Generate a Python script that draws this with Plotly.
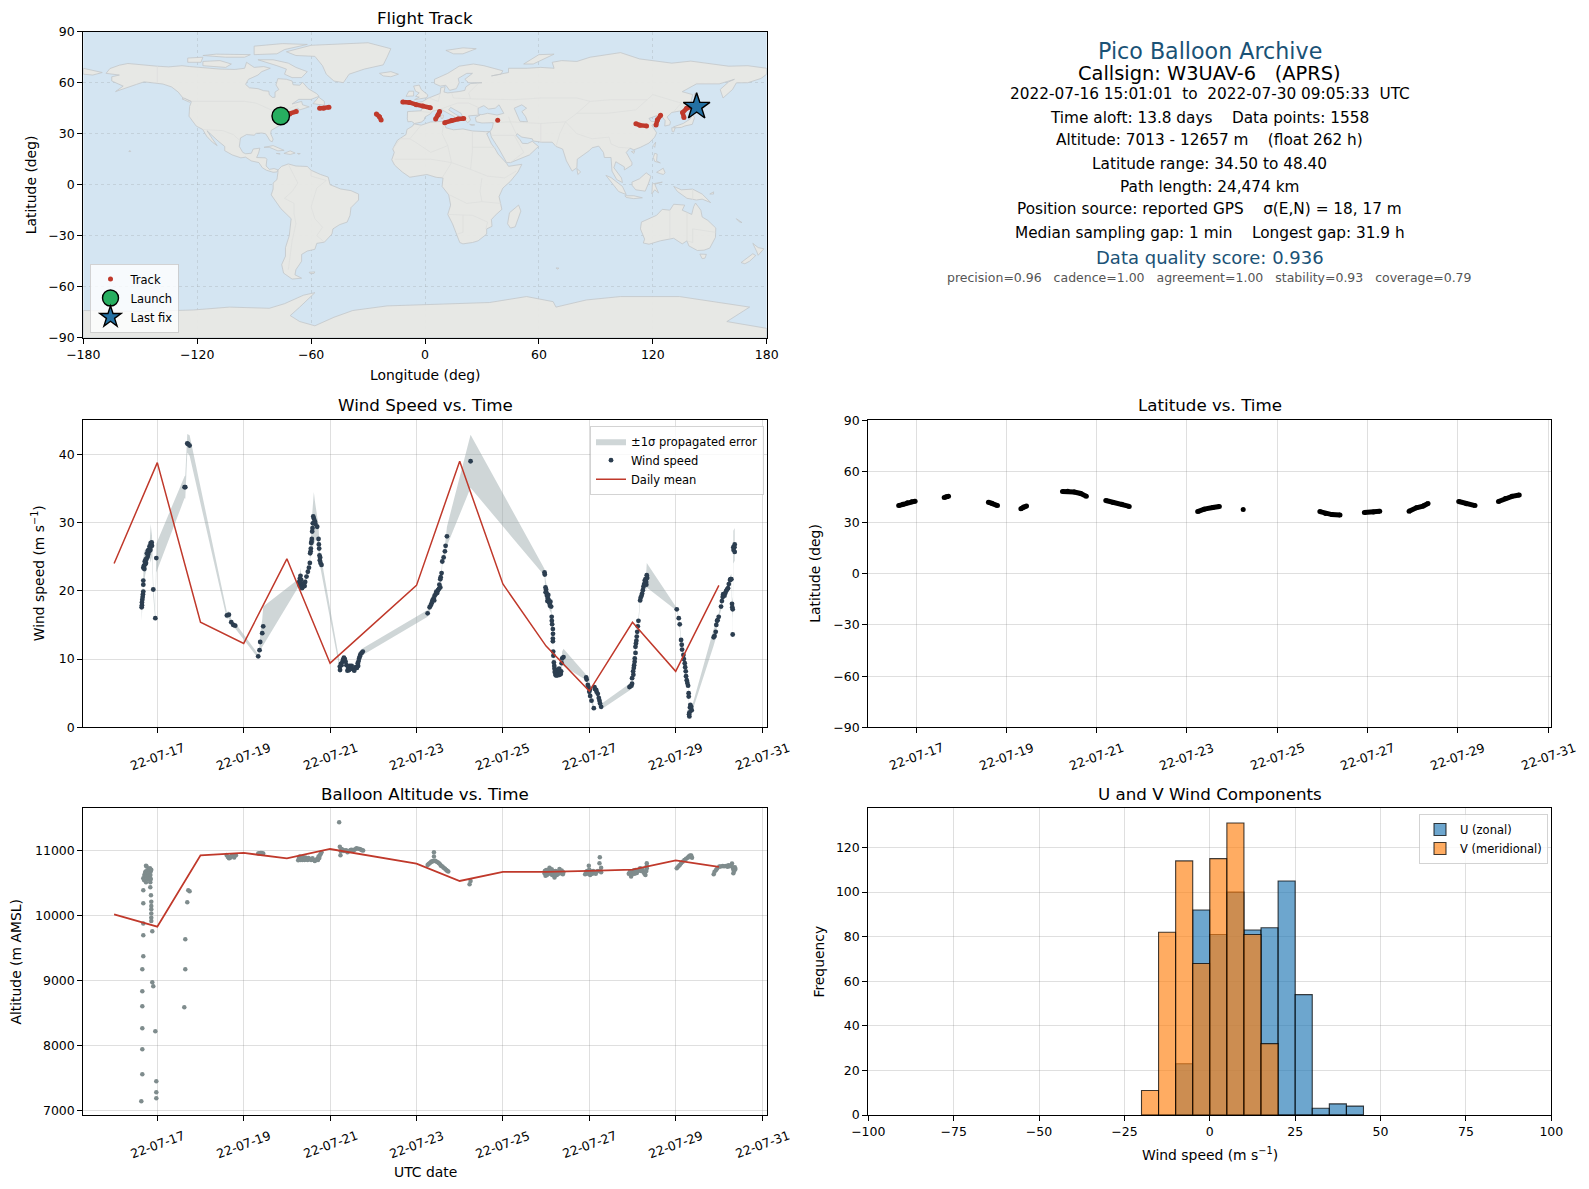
from datetime import datetime, timedelta

import plotly.graph_objects as go

W, H = 1589, 1189
START = datetime(2022, 7, 16)

# --- flight data, time in days since 2022-07-16 00:00 UTC ---
wind_days = [
    0.638, 0.645, 0.645, 0.653, 0.661, 0.668, 0.676, 0.676, 0.676, 0.676, 0.692, 0.722, 0.738, 0.753, 0.776, 0.792,
    0.815, 0.830, 0.846, 0.846, 0.877, 0.907, 0.954, 0.977,
    1.632, 1.648, 1.694, 1.717, 1.748,
    2.611, 2.658, 2.712, 2.758, 2.804,
    3.336, 3.367, 3.382, 3.429, 3.452,
    4.285, 4.300, 4.315, 4.331, 4.362, 4.392, 4.423, 4.454, 4.485, 4.531, 4.539, 4.554, 4.562, 4.577, 4.585, 4.593,
    4.624, 4.647, 4.701, 4.732, 4.747, 4.755, 4.762, 4.778, 4.801,
    5.225, 5.264, 5.287, 5.341, 5.379, 5.402, 5.456, 5.533, 5.595, 5.649, 5.672, 5.703, 5.757,
    7.258, 7.304, 7.350, 7.396, 7.443, 7.497, 7.551, 7.551, 7.581, 7.597, 7.628, 7.658, 7.674, 7.705,
    8.252,
    9.964, 9.987, 10.010, 10.041, 10.079, 10.118, 10.133, 10.157, 10.157, 10.157, 10.164, 10.180, 10.195, 10.218,
    10.257, 10.311, 10.349, 10.372, 10.403,
    10.928, 10.966, 11.012, 11.020, 11.051, 11.105, 11.120, 11.159, 11.197, 11.236, 11.274,
    11.930, 11.976, 11.991, 12.015, 12.038, 12.053, 12.069, 12.099, 12.123, 12.138, 12.177, 12.223, 12.254, 12.285,
    12.316, 12.331,
    13.025, 13.071, 13.094, 13.125, 13.148, 13.179, 13.210, 13.233, 13.256, 13.287, 13.302, 13.317, 13.340, 13.371,
    13.880, 13.927, 13.958, 13.996, 14.050, 14.089, 14.150, 14.212, 14.258, 14.289, 14.304, 14.320, 14.320, 14.335,
    14.366, 14.366,
]
wind_speed = [
    17.6, 17.9, 18.3, 18.7, 19.1, 19.5, 19.9, 20.9, 21.5, 23.4, 23.7, 23.9, 24.1, 24.7, 25.0, 25.4,
    25.8, 26.2, 26.7, 27.0, 26.6, 20.2, 16.0, 24.8,
    35.2, 35.2, 41.6, 41.5, 41.3,
    16.4, 16.5, 15.4, 15.0, 14.9,
    10.4, 11.3, 12.5, 13.8, 14.8,
    21.3, 21.8, 22.2, 21.6, 20.6, 20.9, 21.3, 22.1, 22.8, 24.1, 25.5, 26.2, 27.0, 27.6, 28.7, 29.2,
    30.6, 30.2, 29.4, 27.6, 26.2, 25.2, 24.5, 24.1, 23.8,
    8.9, 9.1, 9.6, 10.0, 9.1, 8.3, 9.0, 8.5, 8.8, 9.0, 10.1, 10.7, 11.1,
    16.7, 17.6, 18.2, 18.9, 19.5, 20.1, 20.5, 21.7, 22.6, 24.3, 24.9, 25.8, 26.6, 28.0,
    39.0,
    22.7, 20.5, 19.7, 18.9, 18.2, 17.7, 15.6, 14.4, 13.0, 12.6, 11.1, 9.5, 8.6, 7.7,
    8.2, 7.7, 8.2, 10.1, 10.3,
    7.3, 6.2, 5.5, 4.6, 3.9, 2.8, 5.9, 5.5, 4.9, 3.9, 3.0,
    5.9, 6.1, 7.2, 8.2, 9.1, 10.1, 11.8, 13.3, 14.8, 15.6, 18.6, 19.6, 20.6, 21.5,
    21.3, 22.3,
    17.3, 16.0, 15.1, 12.8, 11.4, 10.6, 9.4, 8.2, 6.9, 6.1, 4.5, 1.6, 3.3, 2.5,
    13.2, 14.0, 15.6, 16.2, 17.7, 19.1, 19.7, 20.4, 21.6, 21.7, 18.1, 17.3, 13.6, 26.4,
    26.8, 25.7,
]
wind_sigma = [
    2.0, 1.8, 1.5, 1.2, 1.2, 1.0, 1.0, 1.2, 1.5, 2.5, 2.4, 1.5, 1.5, 1.4, 1.0, 1.0,
    1.0, 1.5, 2.6, 2.8, 1.5, 1.0, 0.5, 2.1,
    1.6, 1.7, 1.4, 1.4, 1.5,
    0.5, 0.5, 0.4, 0.4, 0.4,
    0.3, 0.6, 1.2, 2.0, 2.9,
    0.5, 0.8, 1.2, 0.8, 0.5, 0.5, 0.5, 0.5, 0.5, 0.5, 0.8, 1.0, 1.5, 2.0, 2.5, 3.0,
    3.9, 3.0, 1.5, 2.0, 1.5, 1.0, 1.0, 0.8, 0.8,
    0.5, 0.5, 0.4, 0.4, 0.4, 0.4, 0.4, 0.4, 0.4, 0.4, 0.4, 0.5, 0.5,
    0.5, 0.5, 0.6, 0.6, 0.6, 0.6, 0.6, 0.6, 0.6, 0.6, 0.6, 0.8, 1.0, 1.4,
    3.9,
    0.5, 1.2, 1.2, 1.0, 1.0, 1.0, 0.6, 0.4, 0.4, 0.4, 0.4, 0.4, 0.4, 0.4,
    0.4, 0.4, 0.6, 1.0, 1.2,
    0.4, 0.4, 0.4, 0.4, 0.4, 0.3, 0.4, 0.3, 0.3, 0.3, 0.4,
    0.5, 0.4, 0.4, 0.4, 0.4, 0.4, 0.4, 0.4, 0.4, 0.4, 0.5, 0.6, 0.8, 1.0,
    1.2, 1.8,
    0.2, 0.3, 0.3, 0.3, 0.3, 0.3, 0.3, 0.3, 0.3, 0.3, 0.3, 0.3, 0.3, 0.4,
    1.2, 1.0, 0.6, 0.5, 0.5, 0.5, 0.5, 0.5, 0.5, 0.8, 1.0, 1.3, 1.3, 2.4,
    2.4, 1.5,
]
# further fixes inside the dense clusters, dots only
wind_cluster_days = [
    0.70, 0.71, 0.73, 0.76, 0.78, 0.80, 0.82, 0.84, 0.86, 0.87,
    4.29, 4.31, 4.33, 4.35, 4.38, 4.41, 4.51, 4.55, 4.57, 4.60, 4.61, 4.63, 4.66, 4.74, 4.77,
    5.23, 5.25, 5.30, 5.32, 5.36, 5.42, 5.44, 5.48, 5.50, 5.56, 5.62, 5.64, 5.66, 5.69, 5.73,
    7.33, 7.37, 7.41, 7.42, 7.46, 7.48, 7.52, 7.53, 7.56,
    9.97, 9.99, 10.0, 10.02, 10.03, 10.05, 10.06, 10.09, 10.10, 10.13, 10.14, 10.16, 10.17, 10.19, 10.2, 10.22, 10.23,
    10.24, 10.26, 10.28, 10.29, 10.30, 10.32, 10.34, 10.36,
    10.94, 10.98, 11.0, 11.13, 11.17, 11.22, 11.25,
    11.95, 11.99, 12.02, 12.03, 12.05, 12.07, 12.08, 12.09, 12.11, 12.19, 12.21, 12.24, 12.27, 12.30, 12.32, 12.34,
    13.14, 13.19, 13.22, 13.24, 13.27, 13.30, 13.33, 13.32, 13.36, 13.31,
    13.90, 13.94, 13.97, 14.07, 14.10, 14.13, 14.17, 14.19, 14.23, 14.27, 14.31, 14.34, 14.36,
]
wind_cluster_speed = [
    23.2, 24.3, 24.6, 25.5, 25.9, 26.0, 26.5, 26.0, 26.9, 27.1,
    20.9, 21.2, 20.5, 20.4, 21.0, 20.7, 23.4, 25.8, 27.2, 29.9, 30.9, 30.0, 29.8, 26.8, 24.9,
    8.4, 9.3, 9.9, 10.2, 9.6, 8.7, 8.4, 8.6, 9.0, 8.3, 8.7, 9.4, 9.7, 10.4, 10.9,
    17.9, 18.6, 18.6, 19.3, 19.9, 19.7, 20.3, 20.9, 22.0,
    22.4, 19.8, 20.2, 19.3, 18.5, 19.4, 18.6, 17.8, 18.4, 16.2, 15.1, 13.7, 10.5, 9.0, 8.1, 8.4, 7.6,
    8.0, 7.6, 7.8, 8.3, 8.6, 8.1, 7.8, 9.4,
    7.0, 5.9, 5.2, 5.6, 5.2, 4.3, 3.5,
    6.0, 6.4, 7.7, 8.7, 9.6, 10.9, 12.3, 12.7, 14.0, 19.0, 19.3, 20.1, 21.0, 21.7, 20.9, 21.9,
    12.1, 10.0, 8.8, 7.5, 6.5, 5.0, 2.9, 2.2, 3.0, 1.9,
    13.4, 15.0, 15.7, 18.5, 19.5, 19.3, 20.0, 20.2, 21.0, 21.7, 17.6, 26.0, 26.4,
]
mean_days = [0, 1, 2, 3, 4, 5, 7, 8, 9, 10, 11, 12, 13, 14]
wind_mean = [24.0, 38.8, 15.4, 12.3, 24.7, 9.4, 20.8, 39.0, 21.0, 11.9, 5.3, 15.4, 8.2, 20.8]
alt_mean = [10015, 9826, 10923, 10959, 10877, 11020, 10795, 10528, 10667, 10667, 10682, 10703, 10846, 10744]

alt_days = [
    0.630, 0.653, 0.653, 0.653, 0.653, 0.653, 0.653, 0.676, 0.676, 0.676, 0.676, 0.676, 0.676, 0.692, 0.715, 0.738,
    0.730, 0.738, 0.753, 0.776, 0.792, 0.815, 0.830, 0.830, 0.846, 0.838, 0.838, 0.853, 0.861, 0.861, 0.861, 0.861,
    0.861, 0.861, 0.884, 0.884, 0.907, 0.954, 0.977, 0.977, 0.977,
    1.625, 1.648, 1.648, 1.694, 1.717, 1.748,
    2.604, 2.658, 2.696, 2.758, 2.820,
    3.336, 3.390, 3.452,
    4.261, 4.300, 4.339, 4.392, 4.454, 4.531, 4.593, 4.647, 4.701, 4.732, 4.778, 4.801,
    5.210, 5.225, 5.240, 5.264, 5.341, 5.402, 5.472, 5.549, 5.611, 5.688, 5.765,
    7.258, 7.304, 7.350, 7.396, 7.404, 7.404, 7.458, 7.520, 7.566, 7.628, 7.689, 7.736,
    8.229, 8.252,
    9.964, 9.987, 10.002, 10.041, 10.079, 10.118, 10.157, 10.195, 10.234, 10.272, 10.311, 10.349, 10.388,
    10.904, 10.951, 10.989, 11.020, 11.051, 11.120, 11.174, 11.236, 11.244, 11.274, 11.274,
    11.914, 11.968, 12.007, 12.069, 12.123, 12.177, 12.238, 12.300, 12.331, 12.331,
    13.025, 13.125, 13.202, 13.279, 13.333, 13.379,
    13.880, 13.934, 14.011, 14.089, 14.166, 14.243, 14.304, 14.335, 14.382, 14.335,
    # inside the dense clusters
    0.70, 0.72, 0.74, 0.75, 0.77, 0.78, 0.80, 0.82, 0.84, 0.86, 0.85,
    2.63, 2.68, 2.72, 2.78, 3.36, 3.42,
    4.28, 4.32, 4.36, 4.37, 4.41, 4.43, 4.48, 4.50, 4.56, 4.62, 4.67, 4.72, 4.75, 4.76,
    5.25, 5.29, 5.32, 5.37, 5.43, 5.50, 5.58, 5.65, 5.72, 5.74,
    7.28, 7.33, 7.37, 7.43, 7.49, 7.55, 7.60, 7.66, 7.71,
    9.97, 10.0, 10.02, 10.06, 10.09, 10.10, 10.13, 10.14, 10.17, 10.18, 10.21, 10.22, 10.25, 10.29, 10.33, 10.36, 10.38, 10.40,
    10.93, 10.97, 11.0, 11.03, 11.07, 11.09, 11.15, 11.2, 11.26,
    11.94, 11.99, 12.03, 12.05, 12.1, 12.15, 12.2, 12.26, 12.28, 12.32, 12.33,
    13.06, 13.09, 13.16, 13.24, 13.3, 13.35, 13.36,
    13.9, 13.96, 14.04, 14.12, 14.2, 14.22, 14.27, 14.32, 14.35, 14.37, 14.36,
]
alt_m = [
    7139, 7554, 7939, 8262, 8600, 8831, 9169, 9369, 9692, 9872, 10185, 10385, 10569, 10544, 10595, 10508,
    10672, 10764, 10749, 10621, 10697, 10595, 10723, 10544, 10672, 10508, 10431, 10308, 10210, 10144, 10092, 10026,
    9964, 9913, 9754, 8969, 8908, 8215, 7446, 7277, 7185,
    8585, 9169, 9631, 10200, 10385, 10369,
    10928, 10877, 10897, 10908, 10923,
    10949, 10959, 10949,
    10846, 10903, 10867, 10877, 10867, 10867, 10877, 10836, 10867, 10903, 10938, 10969,
    11431, 11056, 10923, 11020, 10995, 10969, 11005, 11000, 11031, 11020, 10995,
    10774, 10800, 10826, 10836, 10969, 10903, 10826, 10800, 10764, 10733, 10697, 10672,
    10477, 10528,
    10646, 10610, 10697, 10662, 10733, 10662, 10621, 10580, 10646, 10672, 10713, 10646, 10631,
    10631, 10682, 10764, 10621, 10672, 10662, 10672, 10800, 10892, 10733, 10662,
    10641, 10595, 10662, 10697, 10682, 10723, 10697, 10621, 10800, 10723,
    10723, 10800, 10851, 10887, 10918, 10887,
    10631, 10697, 10749, 10759, 10759, 10754, 10795, 10703, 10713, 10646,
    # inside the dense clusters
    10620, 10660, 10640, 10600, 10690, 10560, 10650, 10700, 10620, 10700, 10560,
    10900, 10880, 10920, 10890, 10955, 10958,
    10880, 10850, 10850, 10900, 10850, 10890, 10850, 10880, 10850, 10850, 10850, 10850, 10880, 10920,
    10985, 11010, 10990, 11000, 10985, 11010, 11015, 11025, 11010, 11000,
    10790, 10815, 10830, 10840, 10815, 10780, 10750, 10715, 10685,
    10680, 10640, 10620, 10700, 10640, 10690, 10710, 10620, 10680, 10640, 10620, 10680, 10620, 10640, 10680, 10690, 10670, 10660,
    10670, 10640, 10700, 10670, 10640, 10680, 10640, 10680, 10680,
    10670, 10630, 10690, 10640, 10650, 10690, 10680, 10660, 10640, 10680, 10760,
    10750, 10770, 10825, 10870, 10905, 10900, 10920,
    10670, 10720, 10750, 10755, 10745, 10770, 10765, 10740, 10680, 10740, 10690,
]

# None splits the flight into the separate stretches with data
lat_days = [
    0.616, 0.712, 0.808, 0.904, 0.980, None, 1.624, 1.672, 1.720, None, 2.603, 2.680, 2.804, None,
    3.322, 3.380, 3.447, None, 4.244, 4.359, 4.503, 4.647, 4.772, None, 5.203, 5.367, 5.559, 5.722, None,
    7.238, 7.382, 7.574, 7.718, None, 8.246, None, 9.944, 10.070, 10.210, 10.390, None,
    10.930, 11.130, 11.270, None, 11.920, 12.080, 12.230, 12.340, None,
    13.020, 13.190, 13.380, None, 13.900, 14.050, 14.200, 14.360,
]
lat_deg = [
    40.0, 40.8, 41.6, 42.2, 42.6, None, 44.8, 45.2, 45.4, None, 42.0, 41.4, 40.0, None,
    38.1, 39.1, 39.7, None, 48.3, 48.4, 47.9, 47.1, 45.4, None, 43.0, 41.8, 40.8, 39.5, None,
    36.5, 37.9, 38.9, 39.5, None, 37.7, None, 36.5, 35.3, 34.7, 34.5, None,
    35.9, 36.3, 36.7, None, 36.7, 38.7, 39.7, 41.2, None,
    42.4, 41.0, 40.0, None, 42.4, 44.2, 45.4, 46.2,
]
track_lon = [
    -76.0, -71.3, -67.8, None, -55.5, -53.4, -50.6, None, -25.6, -24.0, -23.1, None,
    -11.7, -8.2, -4.6, -1.1, 2.8, None, 7.7, 6.9, 5.6, None, 10.4, 13.9, 17.4, 20.4, None, 38.3, None,
    111.1, 113.2, 116.7, None, 121.7, 122.4, 124.1, None, 136.4, 135.7, 137.8, 140.5, 143.1,
]
track_lat = [
    40.4, 41.6, 43.0, None, 44.9, 44.9, 45.5, None, 41.6, 40.0, 38.0, None,
    48.6, 48.4, 47.1, 46.3, 45.3, None, 43.0, 41.0, 38.6, None, 36.5, 37.7, 38.6, 39.0, None, 37.9, None,
    35.9, 35.0, 34.6, None, 35.1, 38.0, 40.9, None, 39.6, 42.4, 44.9, 45.9, 45.9,
]
launch_lon, launch_lat = [-76.0], [40.4]
last_lon, last_lat = [143.1], [45.9]

bin_centers = [-17.5, -12.5, -7.5, -2.5, 2.5, 7.5, 12.5, 17.5, 22.5, 27.5, 32.5, 37.5, 42.5]
u_counts = [0, 0, 23, 92, 81, 100, 83, 84, 105, 54, 3, 5, 4]
v_counts = [11, 82, 114, 68, 115, 131, 81, 32, 0, 0, 0, 0, 0]

tick_days = [1, 3, 5, 7, 9, 11, 13, 15]
tick_labels = ["22-07-17", "22-07-19", "22-07-21", "22-07-23", "22-07-25", "22-07-27", "22-07-29", "22-07-31"]

summary_lines = [
    ("Pico Balloon Archive", 22.2, "#1a5276", 50.8),
    ("Callsign: W3UAV-6   (APRS)", 19.4, "black", 73.2),
    ("2022-07-16 15:01:01  to  2022-07-30 09:05:33  UTC", 15.3, "black", 94.5),
    ("Time aloft: 13.8 days    Data points: 1558", 15.3, "black", 117.9),
    ("Altitude: 7013 - 12657 m    (float 262 h)", 15.3, "black", 140.2),
    ("Latitude range: 34.50 to 48.40", 15.3, "black", 163.6),
    ("Path length: 24,474 km", 15.3, "black", 187),
    ("Position source: reported GPS    σ(E,N) = 18, 17 m", 15.3, "black", 209.3),
    ("Median sampling gap: 1 min    Longest gap: 31.9 h", 15.3, "black", 232.7),
    ("Data quality score: 0.936", 18, "#1a5276", 257.1),
    ("precision=0.96   cadence=1.00   agreement=1.00   stability=0.93   coverage=0.79", 12.5, "#555555", 277.4),
]

# axis titles: text, centre x, centre y in pixels, rotated or not
axis_labels = [
    ("Longitude (deg)", 425, 375, 0),
    ("Latitude (deg)", 30.5, 184.7, -90),
    ("Wind speed (m s<sup>−1</sup>)", 37.5, 573.8, -90),
    ("Latitude (deg)", 815, 573.8, -90),
    ("Altitude (m AMSL)", 16, 961.6, -90),
    ("UTC date", 425, 1172, 0),
    ("Wind speed (m s<sup>−1</sup>)", 1209.8, 1154, 0),
    ("Frequency", 819, 961.6, -90),
]

# --- rough coastlines (lon, lat) for the base map, no topojson available offline ---
north_america = [
    (-166, 68.3), (-161, 70.3), (-156.5, 71.3), (-150, 70.5), (-141, 69.7), (-135, 69.3), (-128, 70), (-124, 69.5),
    (-115, 68.5), (-108, 68), (-100, 67.8), (-95, 68.5), (-94, 72), (-90, 69), (-85, 69.5), (-81.5, 68.5), (-86, 66.5),
    (-88, 64.5), (-93, 62), (-94.5, 59), (-92.5, 57), (-88, 56.5), (-85, 55.3), (-82.3, 55), (-82, 52.9), (-80.3, 51.3),
    (-79, 51.5), (-79, 54.5), (-77, 56), (-78.5, 58.7), (-77.5, 62.4), (-73, 62), (-70, 61), (-69.5, 58.8), (-66, 58.5),
    (-64.5, 60.3), (-61.5, 56.5), (-57, 53.5), (-55.8, 52), (-60, 50.2), (-66.5, 50.2), (-70, 47.5), (-65, 49), (-64.5, 47),
    (-61, 45.8), (-66, 44), (-67, 45), (-70, 43.7), (-70.5, 42), (-74, 40.6), (-75.5, 37.5), (-76, 35.2), (-78, 33.9),
    (-81, 32), (-81.3, 30), (-80, 26.8), (-80.5, 25.2), (-81.8, 26), (-82.8, 28), (-84, 30), (-86, 30.4), (-89, 30.2),
    (-90, 29.1), (-94, 29.5), (-97.2, 27.5), (-97.5, 25), (-97.8, 22.5), (-96, 19), (-94.5, 18.2), (-91.5, 18.5),
    (-90.5, 21), (-87, 21.5), (-87.7, 18.5), (-88.7, 16), (-84, 15.8), (-83.3, 14.9), (-83.7, 11), (-82, 9), (-79.5, 9.5),
    (-77.4, 8.7), (-78, 7.5), (-80, 7.3), (-81.7, 8), (-83.5, 8.5), (-85.7, 10), (-87.5, 13), (-91.5, 14), (-94.5, 16.2),
    (-97, 15.8), (-101.5, 17.5), (-105.5, 20), (-105.5, 22.5), (-109, 25.7), (-112.5, 29.5), (-114.8, 31.7), (-112, 27),
    (-110, 24), (-109.5, 23), (-112, 25), (-115, 28.5), (-117.1, 32.5), (-120.5, 34.5), (-122.5, 37.5), (-124.3, 40.3),
    (-124, 46), (-123, 49), (-127.5, 51), (-130, 54.5), (-133.5, 57.5), (-138, 59.2), (-144, 60), (-148, 60.5), (-152, 59),
    (-157, 57), (-163, 54.8), (-159, 58), (-162, 59.5), (-165, 61), (-165, 63.5), (-161, 64.5), (-168, 65.5),
]
south_america = [
    (-77.4, 8.7), (-75.5, 10.8), (-72, 12.2), (-68, 11), (-62, 10.7), (-60, 8.5), (-55, 6), (-51, 4.5), (-50, 0),
    (-44.5, -2.5), (-39, -3.5), (-35, -5.5), (-35, -9), (-39, -13.5), (-39.5, -18), (-41, -22), (-45, -23.5), (-48.5, -26),
    (-49, -29), (-53, -33.8), (-57, -34.5), (-58, -38), (-62, -39), (-65, -41), (-65, -45), (-68, -50), (-68.5, -53),
    (-65, -55), (-70, -55.5), (-74.5, -52), (-75.5, -47), (-73.5, -42), (-73.5, -37), (-71.5, -30), (-70.5, -20), (-76, -14),
    (-81, -6), (-80, -2.5), (-80, 1), (-78, 3), (-77.5, 7),
]
africa = [
    (-5.9, 35.8), (-2, 35), (3, 36.9), (10, 37.3), (11, 33.5), (15, 32.3), (20, 32.8), (25, 31.6), (32, 31.2), (34.2, 31.3),
    (32.5, 30), (35, 24), (37, 21), (38.5, 18), (43, 12.5), (44, 10.8), (51, 12), (49, 7.5), (45, 2), (41, -2), (39, -7),
    (40.5, -14.5), (37, -18), (35, -20.5), (35.3, -24.5), (32.5, -26), (32.5, -29), (28, -33), (25, -34), (20, -34.8),
    (18.3, -34), (16.5, -29), (14.5, -23), (12, -17.5), (13.5, -12), (12.5, -6), (9, -1), (9.5, 4), (6, 4.3), (1, 6),
    (-4, 5.2), (-8, 4.4), (-12, 7.5), (-16, 11.5), (-17.5, 14.7), (-16.2, 19), (-17, 21), (-14.5, 26.2), (-10, 29.5),
    (-9.5, 32.5), (-6.5, 34.5),
]
eurasia = [
    (-9.3, 38.8), (-9.2, 43), (-2, 43.5), (-1.2, 46), (-4.7, 48.4), (-1.5, 48.8), (1.5, 50.8), (4, 52), (8, 53.7), (8.3, 57),
    (10.6, 57.7), (10, 54.5), (12, 54), (18, 54.8), (21, 55.5), (21.5, 57.5), (24, 59.5), (30, 60), (23, 60), (21, 62),
    (25, 65.5), (22, 65.5), (17.5, 62.5), (18, 60), (16.5, 56.5), (13, 55.5), (11, 58.5), (8, 58), (5, 59.5), (5, 62),
    (12, 65.5), (18, 69.7), (25.5, 71), (31, 70), (41, 67), (40, 65), (35, 64), (38, 64.5), (44, 66), (44, 68.5), (54, 68.5),
    (61, 69), (68, 68.5), (67, 72), (72, 73), (80, 72.5), (87, 75), (103, 77.7), (113, 74), (130, 71.5), (140, 72.7),
    (160, 69.7), (170, 70), (180, 68.5), (180, 65), (177, 62.5), (170, 60), (164, 59.9), (162, 56), (157, 51), (155.5, 56),
    (160, 60.5), (163, 62), (155, 59.3), (143, 59.3), (135.5, 54.7), (141, 53), (140, 48), (135, 43.5), (130, 42.5),
    (127.5, 39.8), (129.3, 37), (129, 35.2), (126.3, 34.5), (126.5, 37.7), (125, 39.8), (121.5, 39), (122, 40.6), (118, 39),
    (119, 37.3), (122.5, 37), (119.5, 35), (122, 30.5), (121, 28), (118, 24.5), (113.5, 22), (110, 20.5), (108, 21.5),
    (106, 19), (109, 13), (109, 11.5), (105, 8.7), (105, 10.5), (102, 12.5), (100.5, 13.5), (99.5, 10), (103.5, 4), (104, 1.3),
    (101, 3), (98.5, 8), (98, 16), (94.5, 16), (94, 19), (91.5, 22.7), (88, 21.7), (86.5, 20), (80.2, 15), (80, 10), (77.5, 8),
    (74.5, 14), (73, 20), (72.5, 21), (69, 22.5), (67, 25), (61.5, 25), (57, 25.7), (56.5, 27), (51, 28), (48.5, 30), (48, 29),
    (50, 26.5), (51.3, 24.3), (54, 24.2), (56.5, 25.5), (59.8, 22.5), (55, 17.5), (45, 13), (43, 13), (39, 21), (35, 28),
    (34.3, 31.2), (35.5, 33.5), (36, 36.5), (30, 36.3), (27, 37), (26.5, 39.5), (29, 41), (26, 40.7), (23, 40.5), (24, 38),
    (22.5, 36.5), (20, 39.5), (19, 42), (13.5, 45.5), (12.5, 44), (16, 41.5), (18.5, 40), (16.5, 39.5), (15.7, 38), (15.5, 40),
    (11, 42.5), (8.5, 44.3), (4, 43.3), (3, 41.8), (0, 39.8), (-0.5, 38), (-2, 36.8), (-5.5, 36), (-7, 37.2), (-9, 37),
]
antarctica = [
    (-180, -74), (-152, -74.6), (-122, -73.7), (-103, -72), (-82, -72.7), (-74, -70), (-64, -65), (-58, -63.5), (-66, -72),
    (-71, -77), (-66, -80.5), (-58, -83), (-48, -78), (-38, -74), (-20, -71.3), (0, -70.7), (34, -69.3), (53.5, -65.8),
    (67.5, -68.8), (69, -72), (85, -67.8), (103, -65.8), (134, -65.8), (171, -72), (159, -80.5), (180, -84.5), (180, -90),
    (-180, -90),
]
australia = [
    (114, -22), (113.5, -26), (115.7, -32), (115, -34.3), (118, -35), (124, -33), (131, -31.5), (135.5, -34.8), (138, -33),
    (139, -36), (143.5, -38.7), (147, -38.5), (150, -37.3), (153, -31), (153.2, -25.5), (149, -21), (146, -19), (145.3, -15),
    (142.5, -10.8), (141.5, -13), (140.5, -17.5), (135.5, -15), (136.8, -12), (131, -11.5), (129, -15), (125, -14.5),
    (122, -18), (117, -20.5),
]
greenland = [
    (-73, 78.2), (-60, 82), (-30, 83.5), (-18, 80), (-20, 75), (-22, 70.5), (-32, 68), (-40, 65), (-43, 60), (-48, 61),
    (-52, 65), (-54, 70), (-58, 75.5), (-68, 76),
]
islands = [
    [(-80, 73.5), (-72, 71.5), (-68, 69), (-62, 66.5), (-65, 63), (-70, 63), (-74, 65), (-73, 68), (-78, 70), (-88, 73.5)],
    [(-117, 70), (-105, 69), (-102, 71), (-108, 73), (-117, 72.5)],
    [(-90, 76.5), (-78, 77), (-74, 79.5), (-62, 82.5), (-75, 83), (-90, 81.5)],
    [(-125, 72), (-118, 72), (-117, 75), (-125, 74.5)],
    [(-117, 76), (-105, 75), (-95, 75), (-92, 76.5), (-110, 76.8)],
    [(-59, 47.7), (-53, 46.7), (-53, 49), (-56, 51.5)],
    [(-128, 50.5), (-124, 48.5), (-123.5, 49), (-127, 51)],
    [(-84.8, 22), (-80, 23), (-74.2, 20.2), (-77.5, 19.9), (-82, 22)],
    [(-74.3, 18.4), (-71, 19.9), (-68.4, 18.6), (-71, 17.8)],
    [(-78.3, 18.4), (-76.3, 18.1), (-77.2, 17.8)],
    [(-67.2, 18.4), (-65.7, 18.3), (-66.5, 17.9)],
    [(-156, 19.5), (-155, 19.5), (-155.5, 20.2)],
    [(-61, -51.5), (-58, -51.3), (-58.5, -52.2), (-60.5, -52.3)],
    [(-180, 68.5), (-170, 66), (-175, 64.5), (-180, 65)],
    [(-5.5, 50), (1, 51.2), (1.5, 52.8), (-2, 56), (-3, 58.6), (-6, 58), (-5, 55), (-3, 54), (-5, 52), (-3, 51.5)],
    [(-10, 52), (-6, 52.2), (-6, 55), (-8.5, 55)],
    [(-24, 65.5), (-18, 66.5), (-14, 65), (-18, 63.5), (-22, 64)],
    [(11, 79), (20, 80.5), (27, 80), (20, 77), (15, 77)],
    [(52, 71), (57, 71), (68, 76.8), (60, 76.5)],
    [(12.5, 38), (15.5, 38.2), (15, 36.7)],
    [(8.3, 41), (9.7, 41), (9.5, 39.1), (8.5, 39)],
    [(23.5, 35.5), (26.2, 35.2), (24.5, 34.9)],
    [(80, 9.5), (82, 7.5), (80.5, 6)],
    [(108.7, 19.5), (110.5, 20), (110, 18.4)],
    [(120.2, 23), (121.5, 25), (121, 22)],
    [(130.9, 34), (136, 36), (139.5, 38.5), (141, 41.2), (142, 39.5), (140.8, 35.5), (137, 34.6), (135, 33.7), (132, 33.5)],
    [(130, 33.5), (131.8, 33.5), (131, 31), (130.2, 31.3)],
    [(140, 42), (141.5, 45.3), (145, 43.5), (143, 42)],
    [(142, 46), (143.5, 49), (143, 54), (142, 53.5)],
    [(120.3, 16), (121, 18.5), (122.3, 18), (122, 14), (124, 12.8), (121, 13.7)],
    [(122, 7.3), (123.5, 8.5), (125.5, 9.7), (126.5, 7), (125.5, 6), (124, 6.5)],
    [(109, 1.5), (113, 3.5), (116.5, 7), (119, 5), (117.8, 1), (116, -3.8), (111, -3), (109.2, -0.5)],
    [(95.3, 5.5), (98, 4.2), (104, -1), (106, -5.8), (102, -4), (98.5, 1)],
    [(105.3, -6.5), (110, -6.5), (114.5, -7.7), (110, -8.2), (106, -7.5)],
    [(119.5, -5.5), (119.8, 0.5), (125, 1.5), (121, 0.3), (123, -4.8), (121, -3)],
    [(131, -1), (135, -3), (141, -2.6), (146, -5.5), (150.5, -10.5), (146, -8.5), (143, -9), (138, -8), (133, -4)],
    [(144.8, -40.8), (148.2, -41), (147.5, -43.2), (146, -43.5)],
    [(172.7, -34.5), (175.5, -37), (178.5, -37.7), (175.5, -41.5), (174.8, -39.5)],
    [(172.7, -40.6), (174.2, -41.7), (171, -45), (168.5, -46.5), (166.5, -45.8), (170, -43)],
    [(49.3, -12), (50.5, -15.5), (47.5, -24.8), (45, -25.5), (43.5, -23), (44.5, -16.5)],
    [(164, -20), (167, -22.3), (165.5, -21.8)],
    [(150, -5.5), (152, -4.2), (152, -5.5)],
    [(69, -49), (70.5, -49), (70, -49.7)],
]
inland_seas = [
    [(28, 41.5), (28, 45), (31, 46.5), (33.5, 44.5), (37, 45), (39, 47), (41.5, 42), (38, 41), (33, 42), (30, 41.2)],
    [(47, 45), (51, 47), (53.5, 45), (51, 43), (53, 40), (54, 37), (50, 37.3), (49, 40), (47.5, 43)],
]
borders = [
    [(-141, 69.7), (-141, 60)],
    [(-123, 49), (-95, 49), (-89, 48), (-82.5, 45), (-79, 43), (-75, 45), (-71, 45), (-67, 47)],
    [(-117, 32.5), (-106.5, 31.8), (-101, 29.5), (-97.5, 26)],
    [(-72, 12), (-67, 1), (-70, -4), (-74, -8), (-69, -11), (-69, -17), (-68, -23), (-70, -33), (-72, -50)],
    [(-60, 8.5), (-60, 5), (-52, 2.5), (-57, -2), (-60, -13), (-58, -20), (-54, -25), (-57, -30), (-53, -33.8)],
    [(-2, 35), (-8, 27), (-13, 27), (-17, 21)],
    [(10, 37), (9, 30), (12, 23), (3, 19), (-5, 25), (-8, 27)],
    [(25, 31.6), (25, 20), (24, 9), (14, 13), (12, 23)],
    [(25, 22), (37, 22)],
    [(-16, 15), (3, 15), (14, 13), (9, 4)],
    [(24, 9), (33, 5), (42, 4), (48, 8)],
    [(30, 4), (29, -4), (30, -10), (22, -11), (13, -6)],
    [(30, -10), (40, -11)],
    [(12, -17.5), (25, -18), (33, -22), (32, -26)],
    [(20, -18), (20, -28), (17, -29)],
    [(2, 51), (7, 49), (8, 54)],
    [(-2, 43), (3, 42.5), (7, 44), (13, 46.5), (17, 48), (23, 48), (29, 45)],
    [(14, 54), (15, 51), (24, 50.5), (23, 54), (28, 59.5)],
    [(24, 50.5), (40, 50), (47, 50), (61, 51), (80, 51), (87, 49), (98, 50), (117, 50), (120, 53), (135, 48), (131, 43)],
    [(44, 40), (45, 37), (48, 30)],
    [(36, 36.5), (42, 37), (45, 37), (61, 36), (61, 25)],
    [(61, 36), (74, 37), (80, 30), (88, 27), (97, 28), (98, 24), (102, 22), (108, 21.5)],
    [(74, 37), (71, 30), (69, 22.5)],
    [(80, 42), (74, 37)],
    [(87, 49), (80, 42), (96, 42), (111, 44), (117, 50)],
    [(35, 29), (47, 29), (52, 19), (45, 13)],
    [(141, -2.6), (141, -9)],
    [(129, -15), (129, -31.5)],
    [(138, -16), (138, -33), (141, -34), (141, -26), (153, -28)],
]

# --- panel rectangles in pixels: left, top, right, bottom ---
panels = {
    "map": (83.3, 31.7, 766.7, 337.7),
    "wind": (83.3, 420.3, 766.7, 727.3),
    "lat": (868.3, 420.3, 1551.3, 727.3),
    "alt": (83.3, 808.3, 766.7, 1115),
    "hist": (868.3, 808.3, 1551.3, 1115),
}
titles = {
    "map": ("Flight Track", 13.8),
    "wind": ("Wind Speed vs. Time", 15.5),
    "lat": ("Latitude vs. Time", 15.5),
    "alt": ("Balloon Altitude vs. Time", 14.8),
    "hist": ("U and V Wind Components", 14.8),
}

RED = "#c0392b"
NAVY = "#2c3e50"
GREY = "#7f8c8d"
OCEAN = "#d4e5f2"
GRID = "rgba(128,128,128,0.25)"
FONT = "DejaVu Sans"
TICK = 12.5


def dates(days):
    return [None if d is None else START + timedelta(days=d) for d in days]


def xdom(name):
    p = panels[name]
    return [p[0] / W, p[2] / W]


def ydom(name):
    p = panels[name]
    return [1 - p[3] / H, 1 - p[1] / H]


def axis(**kw):
    base = dict(
        showline=True, mirror=True, linecolor="black", linewidth=1.1, ticks="outside", ticklen=5, tickwidth=1.1,
        tickcolor="black", showgrid=True, gridcolor=GRID, gridwidth=1, zeroline=False, automargin=False,
        tickfont=dict(family=FONT, size=TICK, color="black"),
    )
    base.update(kw)
    return base


def time_axis(name, first, last, anchor):
    # labels come from date_labels() so the rotated text sits centred under its tick
    return axis(
        domain=xdom(name), anchor=anchor, type="date", range=[START + timedelta(days=first), START + timedelta(days=last)],
        tick0="2022-07-17", dtick=2 * 86400000, showticklabels=False,
    )


def date_labels(xref, bottom):
    return [
        dict(
            text=label, xref=xref, yref="paper", x=when, y=1 - (bottom + 29) / H, xanchor="center", yanchor="middle",
            textangle=-20, showarrow=False, font=dict(family=FONT, size=TICK, color="black"),
        )
        for label, when in zip(tick_labels, dates(tick_days))
    ]


fig = go.Figure()

# map panel
for poly in [north_america, south_america, africa, eurasia, antarctica, australia, greenland] + islands:
    fig.add_trace(go.Scatter(
        x=[p[0] for p in poly] + [poly[0][0]], y=[p[1] for p in poly] + [poly[0][1]],
        mode="lines", fill="toself", fillcolor="rgba(232,232,228,0.93)", line=dict(color="#c3c7c9", width=0.8),
        xaxis="x", yaxis="y", showlegend=False, hoverinfo="skip",
    ))
for poly in inland_seas:
    fig.add_trace(go.Scatter(
        x=[p[0] for p in poly] + [poly[0][0]], y=[p[1] for p in poly] + [poly[0][1]],
        mode="lines", fill="toself", fillcolor=OCEAN, line=dict(color="#c3c7c9", width=0.8),
        xaxis="x", yaxis="y", showlegend=False, hoverinfo="skip",
    ))
border_lon, border_lat = [], []
for line in borders:
    border_lon += [p[0] for p in line] + [None]
    border_lat += [p[1] for p in line] + [None]
fig.add_trace(go.Scatter(
    x=border_lon, y=border_lat, mode="lines", line=dict(color="#dcdedc", width=0.7),
    xaxis="x", yaxis="y", showlegend=False, hoverinfo="skip",
))
fig.add_trace(go.Scatter(
    x=track_lon, y=track_lat, mode="lines", line=dict(color=RED, width=4.5), xaxis="x", yaxis="y", showlegend=False,
))
fig.add_trace(go.Scatter(
    x=track_lon, y=track_lat, mode="markers", name="Track", marker=dict(color=RED, size=5), xaxis="x", yaxis="y",
    legend="legend",
))
fig.add_trace(go.Scatter(
    x=launch_lon, y=launch_lat, mode="markers", name="Launch", xaxis="x", yaxis="y", legend="legend",
    marker=dict(color="#27ae60", size=17.5, line=dict(color="black", width=1.4)),
))
fig.add_trace(go.Scatter(
    x=last_lon, y=last_lat, mode="markers", name="Last fix", xaxis="x", yaxis="y", legend="legend",
    marker=dict(color="#2471a3", size=20, symbol="star", line=dict(color="black", width=1.4)),
))

# wind speed panel
upper = [s + e for s, e in zip(wind_speed, wind_sigma)]
lower = [s - e for s, e in zip(wind_speed, wind_sigma)]
fig.add_trace(go.Scatter(
    x=dates(wind_days) + dates(wind_days)[::-1], y=upper + lower[::-1], mode="lines", fill="toself",
    fillcolor="rgba(149,165,166,0.45)", line=dict(width=0), name="±1σ propagated error", xaxis="x2", yaxis="y2",
    legend="legend2",
))
fig.add_trace(go.Scatter(
    x=dates(wind_days + wind_cluster_days), y=wind_speed + wind_cluster_speed, mode="markers", name="Wind speed",
    marker=dict(color=NAVY, size=4.8), xaxis="x2", yaxis="y2", legend="legend2",
))
fig.add_trace(go.Scatter(
    x=dates(mean_days), y=wind_mean, mode="lines", name="Daily mean", line=dict(color=RED, width=1.5),
    xaxis="x2", yaxis="y2", legend="legend2",
))

# latitude panel
fig.add_trace(go.Scatter(
    x=dates(lat_days), y=lat_deg, mode="lines+markers", line=dict(color="black", width=5), marker=dict(color="black", size=5),
    xaxis="x3", yaxis="y3", showlegend=False,
))

# altitude panel
fig.add_trace(go.Scatter(
    x=dates(alt_days), y=alt_m, mode="markers", marker=dict(color=GREY, size=4.5), xaxis="x4", yaxis="y4", showlegend=False,
))
fig.add_trace(go.Scatter(
    x=dates(mean_days), y=alt_mean, mode="lines", line=dict(color=RED, width=1.8), xaxis="x4", yaxis="y4", showlegend=False,
))

# histogram panel
fig.add_trace(go.Bar(
    x=bin_centers, y=u_counts, width=5, name="U (zonal)", xaxis="x5", yaxis="y5", legend="legend3",
    marker=dict(color="rgba(31,119,180,0.65)", line=dict(color="rgba(0,0,0,0.75)", width=1.1)),
))
fig.add_trace(go.Bar(
    x=bin_centers, y=v_counts, width=5, name="V (meridional)", xaxis="x5", yaxis="y5", legend="legend3",
    marker=dict(color="rgba(255,127,14,0.65)", line=dict(color="rgba(0,0,0,0.75)", width=1.1)),
))

annotations = []
for key, (text, above) in titles.items():
    p = panels[key]
    annotations.append(dict(
        text=text, xref="paper", yref="paper", x=(p[0] + p[2]) / 2 / W, y=1 - (p[1] - above) / H, xanchor="center", yanchor="middle",
        showarrow=False, font=dict(family=FONT, size=16.7, color="black"),
    ))
for text, size, color, ypx in summary_lines:
    annotations.append(dict(
        text=text, xref="paper", yref="paper", x=1209.8 / W, y=1 - ypx / H, xanchor="center", yanchor="middle",
        showarrow=False, font=dict(family=FONT, size=size, color=color),
    ))
for text, xpx, ypx, angle in axis_labels:
    annotations.append(dict(
        text=text, xref="paper", yref="paper", x=xpx / W, y=1 - ypx / H, xanchor="center", yanchor="middle", textangle=angle,
        showarrow=False, font=dict(family=FONT, size=13.9, color="black"),
    ))
annotations += date_labels("x2", panels["wind"][3]) + date_labels("x3", panels["lat"][3]) + date_labels("x4", panels["alt"][3])

legend_box = dict(
    bgcolor="rgba(255,255,255,0.8)", bordercolor="rgba(200,200,200,0.8)", borderwidth=1, itemsizing="trace",
    font=dict(family=FONT, size=11.5, color="black"), tracegroupgap=0,
)
MAP_GRID = "rgba(128,128,128,0.2)"

fig.update_layout(
    width=W, height=H, margin=dict(l=0, r=0, t=0, b=0, autoexpand=False), paper_bgcolor="white", plot_bgcolor="white",
    barmode="overlay", annotations=annotations, font=dict(family=FONT),
    shapes=[dict(type="rect", xref="x domain", yref="y domain", x0=0, x1=1, y0=0, y1=1, fillcolor=OCEAN, line_width=0, layer="below")],
    xaxis=axis(domain=xdom("map"), anchor="y", range=[-180, 180], dtick=60, griddash="dot", gridcolor=MAP_GRID),
    yaxis=axis(domain=ydom("map"), anchor="x", range=[-90, 90], dtick=30, griddash="dot", gridcolor=MAP_GRID),
    xaxis2=time_axis("wind", -0.713, 15.107, "y2"),
    yaxis2=axis(domain=ydom("wind"), anchor="x2", range=[0, 45], dtick=10),
    xaxis3=time_axis("lat", -0.057, 15.07, "y3"),
    yaxis3=axis(domain=ydom("lat"), anchor="x3", range=[-90, 90], dtick=30),
    xaxis4=time_axis("alt", -0.713, 15.107, "y4"),
    yaxis4=axis(domain=ydom("alt"), anchor="x4", range=[6928, 11646], dtick=1000, tickformat="d"),
    xaxis5=axis(domain=xdom("hist"), anchor="y5", range=[-100, 100], dtick=25),
    yaxis5=axis(domain=ydom("hist"), anchor="x5", range=[0, 137.6], dtick=20),
    legend=dict(legend_box, x=89.5 / W, y=1 - 332.5 / H, xanchor="left", yanchor="bottom"),
    legend2=dict(legend_box, x=764 / W, y=1 - 425.7 / H, xanchor="right", yanchor="top"),
    legend3=dict(legend_box, x=1548 / W, y=1 - 814 / H, xanchor="right", yanchor="top"),
)

fig.write_html("out.html", config=dict(displayModeBar=False), post_script="document.body.style.margin='0';")
